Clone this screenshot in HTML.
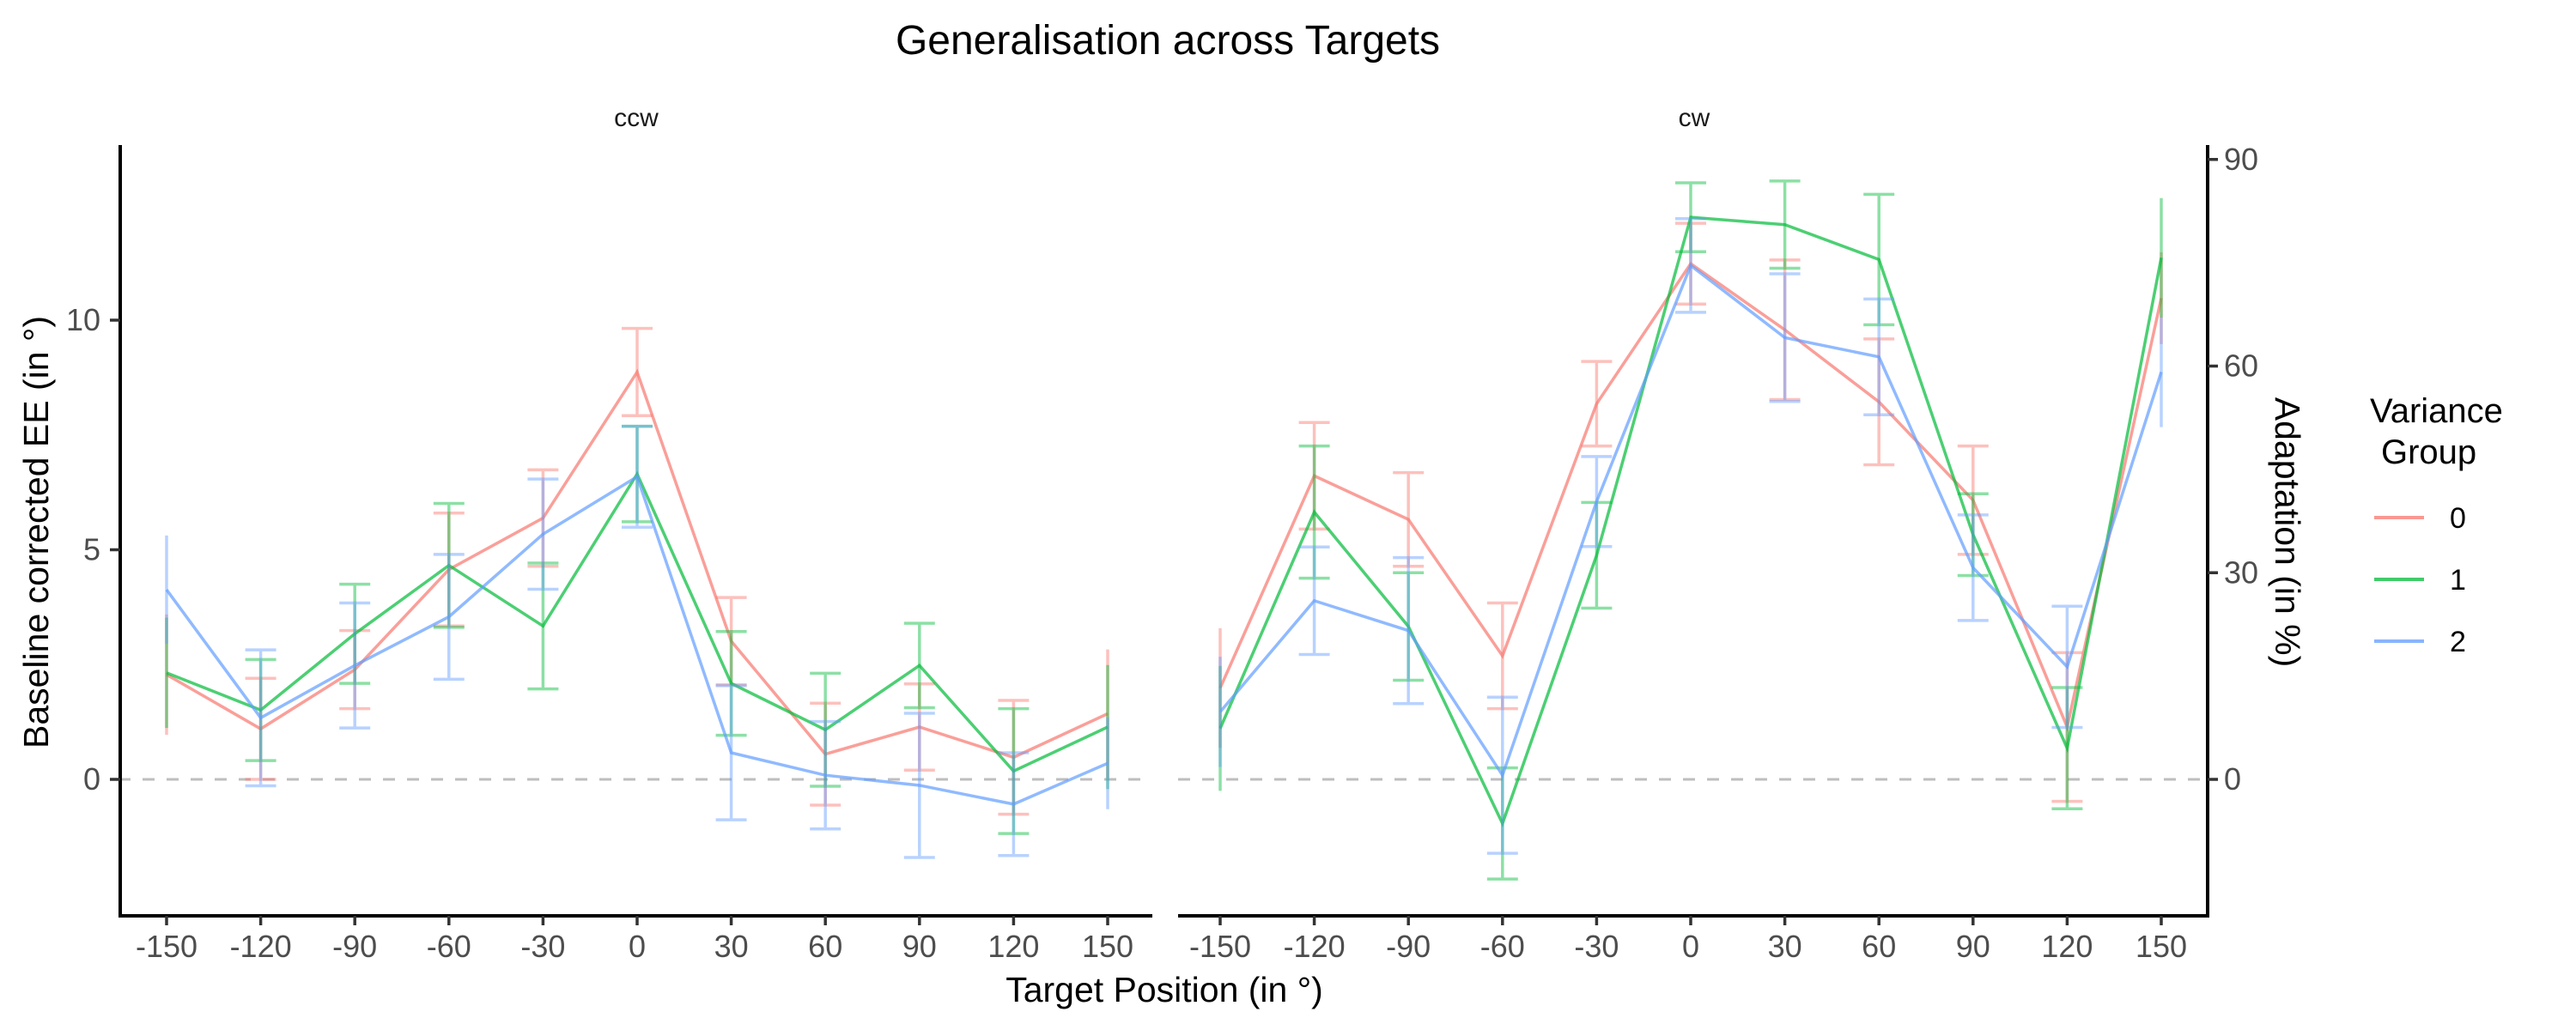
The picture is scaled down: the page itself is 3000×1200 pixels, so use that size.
<!DOCTYPE html>
<html><head><meta charset="utf-8"><style>
html,body{margin:0;padding:0;background:#fff;}
svg{display:block;font-family:"Liberation Sans",sans-serif;}
</style></head><body>
<svg id="chart" width="3000" height="1200" viewBox="0 0 3000 1200" xmlns="http://www.w3.org/2000/svg">
<rect width="3000" height="1200" fill="#fff"/>
<text x="1360" y="63" font-size="48" text-anchor="middle" fill="#000">Generalisation across Targets</text>
<text x="741" y="147" font-size="30" text-anchor="middle" fill="#1a1a1a">ccw</text>
<text x="1973" y="147" font-size="30" text-anchor="middle" fill="#1a1a1a">cw</text>
<text transform="translate(56,620) rotate(-90)" font-size="41" text-anchor="middle" fill="#000">Baseline corrected EE (in °)</text>
<text transform="translate(2650,620) rotate(90)" font-size="41" text-anchor="middle" fill="#000">Adaptation (in %)</text>
<text x="1356" y="1167" font-size="41" text-anchor="middle" fill="#000">Target Position (in °)</text>
<g>
<text x="2760" y="492" font-size="40" fill="#000">Variance</text>
<text x="2773" y="540" font-size="40" fill="#000">Group</text>
<line x1="2765" y1="603" x2="2823" y2="603" stroke="#F8766D" stroke-opacity="0.75" stroke-width="4"/>
<text x="2853" y="615" font-size="34" fill="#000">0</text>
<line x1="2765" y1="675" x2="2823" y2="675" stroke="#00BA38" stroke-opacity="0.75" stroke-width="4"/>
<text x="2853" y="687" font-size="34" fill="#000">1</text>
<line x1="2765" y1="747" x2="2823" y2="747" stroke="#619CFF" stroke-opacity="0.75" stroke-width="4"/>
<text x="2853" y="759" font-size="34" fill="#000">2</text>
</g>
<g id="plot"></g>
</svg>
<script>
const targets = [-150,-120,-90,-60,-30,0,30,60,90,120,150];
const ccw0 = [2.28,1.10,2.39,4.57,5.69,8.87,3.01,0.55,1.14,0.48,1.43];
const ccw0err = [1.31,1.1,0.85,1.23,1.05,0.95,0.95,1.11,0.94,1.24,1.4];
const ccw1 = [2.32,1.51,3.17,4.66,3.34,6.65,2.09,1.08,2.48,0.18,1.14];
const ccw1err = [1.2,1.1,1.08,1.35,1.37,1.04,1.13,1.23,0.92,1.36,1.35];
const ccw2 = [4.13,1.34,2.48,3.54,5.34,6.59,0.58,0.09,-0.13,-0.54,0.35];
const ccw2err = [1.18,1.48,1.36,1.36,1.2,1.1,1.46,1.17,1.57,1.12,1.0];
const cw0 = [1.99,6.61,5.66,2.69,8.18,11.23,9.79,8.22,6.08,1.14,10.48];
const cw0err = [1.3,1.16,1.02,1.15,0.92,0.88,1.52,1.37,1.18,1.62,1.0];
const cw1 = [1.11,5.82,3.33,-0.96,4.88,12.24,12.08,11.32,5.33,0.68,11.36];
const cw1err = [1.36,1.44,1.17,1.21,1.15,0.75,0.95,1.42,0.89,1.32,1.3];
const cw2 = [1.47,3.89,3.24,0.09,6.05,11.19,9.62,9.20,4.61,2.45,8.87];
const cw2err = [1.2,1.17,1.59,1.7,0.98,1.02,1.39,1.26,1.15,1.32,1.2];
const yTicks = [0,5,10];
const y2Ticks = [0,30,60,90];
const xTickLabels = ["-150","-120","-90","-60","-30","0","30","60","90","120","150"];

const NS="http://www.w3.org/2000/svg";
const plot=document.getElementById('plot');
const colors=["#F8766D","#00BA38","#619CFF"];
const Y0=908, PX=53.5;
function y(v){return Y0-v*PX;}
function xL(t){return 194+(t+150)/300*1096;}
function xR(t){return 1421+(t+150)/300*1096;}
function mk(tag,attrs,parent){const e=document.createElementNS(NS,tag);for(const k in attrs)e.setAttribute(k,attrs[k]);(parent||plot).appendChild(e);return e;}

[[138,1342],[1372,2571]].forEach((r,i)=>{
  const l=mk('line',{x1:r[0],x2:r[1],y1:y(0),y2:y(0),stroke:'#BEBEBE','stroke-width':3,'stroke-dasharray':'14,14'});
  
  
});

function drawPanel(xf,series,errs,pname){
  series.forEach((s,gi)=>{
    const g=mk('g',{});
    
    
    s.forEach((v,i)=>{
      const cx=xf(targets[i]), e=errs[gi][i];
      const edge=(i===0||i===s.length-1);
      const d=edge?`M${cx},${y(v+e)}V${y(v-e)}`:`M${cx-18},${y(v+e)}H${cx+18}M${cx},${y(v+e)}V${y(v-e)}M${cx-18},${y(v-e)}H${cx+18}`;
      const eb=mk('path',{d:d,stroke:colors[gi],'stroke-opacity':0.45,'stroke-width':3.5,fill:'none'},g);
      
      
    });
    const pts=s.map((v,i)=>xf(targets[i])+','+y(v)).join(' ');
    const pl=mk('polyline',{points:pts,fill:'none',stroke:colors[gi],'stroke-opacity':0.7,'stroke-width':3.5},g);
    
    
  });
}
drawPanel(xL,[ccw0,ccw1,ccw2],[ccw0err,ccw1err,ccw2err],'ccw');
drawPanel(xR,[cw0,cw1,cw2],[cw0err,cw1err,cw2err],'cw');

const ax=mk('g',{});


mk('line',{x1:140,x2:140,y1:169,y2:1069,stroke:'#000','stroke-width':4},ax);
mk('line',{x1:138,x2:1342,y1:1067,y2:1067,stroke:'#000','stroke-width':4},ax);
mk('line',{x1:1372,x2:2573,y1:1067,y2:1067,stroke:'#000','stroke-width':4},ax);
mk('line',{x1:2571,x2:2571,y1:169,y2:1069,stroke:'#000','stroke-width':4},ax);
yTicks.forEach(v=>{
  mk('line',{x1:128,x2:140,y1:y(v),y2:y(v),stroke:'#333','stroke-width':3.5},ax);
  const t=mk('text',{x:117,y:y(v)+12,'font-size':36,'text-anchor':'end',fill:'#4D4D4D'},ax);
  t.textContent=v;
  
  
});
y2Ticks.forEach(p=>{
  const v=p/100*15;
  mk('line',{x1:2571,x2:2583,y1:y(v),y2:y(v),stroke:'#333','stroke-width':3.5},ax);
  const t=mk('text',{x:2590,y:y(v)+12,'font-size':36,fill:'#4D4D4D'},ax);
  t.textContent=p;
  
  
});
[xL,xR].forEach(xf=>{
  targets.forEach((tv,i)=>{
    const cx=xf(tv);
    mk('line',{x1:cx,x2:cx,y1:1067,y2:1078,stroke:'#333','stroke-width':3.5},ax);
    const t=mk('text',{x:cx,y:1115,'font-size':36,'text-anchor':'middle',fill:'#4D4D4D'},ax);
    t.textContent=xTickLabels[i];
    
    
  });
});
</script>
</body></html>
